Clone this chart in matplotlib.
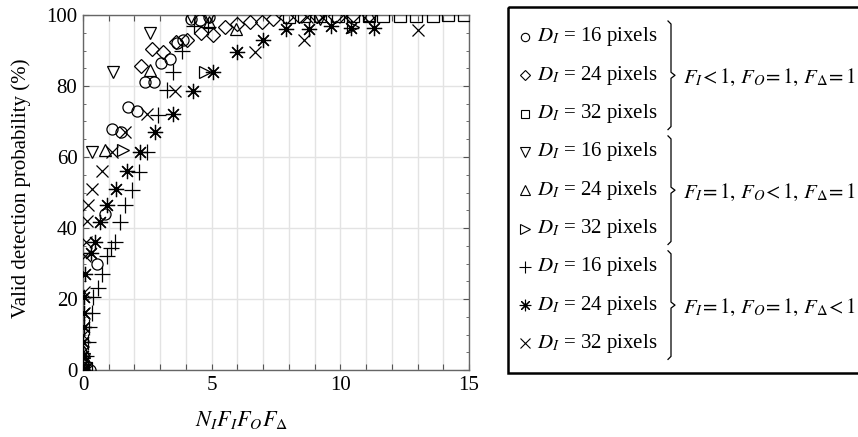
import matplotlib
matplotlib.use("Agg")
import matplotlib.pyplot as plt
from matplotlib.patches import Rectangle

plt.rcParams['font.family'] = ['Liberation Serif', 'DejaVu Serif']
plt.rcParams['mathtext.fontset'] = 'stix'

# --- datos (x = N_I F_I F_O F_Delta, y = probabilidad %) ---
# F_I < 1
circ_x = [0, 0.05, 0.27, 0.55, 0.85, 1.13, 1.48, 1.75, 2.1, 2.4, 2.76, 3.03, 3.38, 3.64, 3.9, 4.2, 4.55, 4.9]
circ_y = [0, 2, 0, 30, 44, 68, 67, 74, 73, 81, 81, 86.5, 87.5, 92, 93, 99, 98.5, 99.5]
diam_x = [0, 0.05, 2.25, 2.7, 3.1, 3.6, 4.05, 4.6, 5.05, 5.5, 6.0, 6.5, 6.95, 7.4, 7.9, 8.4, 9.1, 9.8, 10.5, 11.1]
diam_y = [0, 1, 85.5, 90.5, 89.5, 92.5, 93, 95, 94.5, 96.5, 97.5, 98, 98, 98.8, 99.3, 99.7, 99.7, 99.8, 100, 100]
sq_x = [0, 0.1, 8.0, 8.6, 9.2, 9.9, 10.5, 11.1, 11.65, 12.3, 12.95, 13.6, 14.2, 14.8]
sq_y = [0, 0.5, 99.5, 99.6, 99.6, 99.7, 99.8, 99.8, 99.6, 99.6, 99.6, 99.6, 100, 100]
# F_O < 1
tdn_x = [0, 0.02, 0.35, 1.17, 2.6, 4.2, 4.9, 9.2]
tdn_y = [0, 3, 61.5, 84, 95, 99.5, 99.5, 99]
tup_x = [0, 0.05, 0.85, 2.6, 4.9, 5.95, 11.1]
tup_y = [0, 5, 62, 84.5, 98, 96, 100]
trt_x = [0, 0.1, 1.55, 4.75, 10.5]
trt_y = [0, 2, 62, 84, 96.5]
# F_Delta < 1
plus_x = [0, 0.1, 0.2, 0.25, 0.35, 0.4, 0.6, 0.73, 0.93, 1.08, 1.24, 1.44, 1.63, 1.9, 2.17, 2.47, 2.9, 3.25, 3.5, 3.84, 4.3, 4.85]
plus_y = [0, 4, 8, 12, 16, 20.5, 23, 27, 32, 34.5, 36, 41.7, 46.5, 50.7, 55.8, 61.5, 71.8, 79, 84, 90, 97, 96.5]
ast_x = [0, 0, 0, 0.02, 0.03, 0.04, 0.08, 0.3, 0.47, 0.66, 0.95, 1.3, 1.7, 2.2, 2.8, 3.5, 4.28, 5.05, 6.0, 7.0, 7.9, 8.8, 9.65, 10.4, 11.3]
ast_y = [0, 4, 8, 12, 16, 20.5, 27, 33, 36, 41.7, 46.5, 51, 56, 61.5, 67, 72, 78.5, 84, 89.5, 93, 96, 96, 97, 96.3, 96.3]
cross_x = [0, 0, 0, 0.02, 0.05, 0.08, 0.1, 0.15, 0.2, 0.35, 0.73, 1.13, 1.63, 2.5, 3.57, 6.7, 8.6, 8.7, 9.3, 10.2, 13.0]
cross_y = [0, 5, 10, 16, 22, 32, 36, 42, 46.5, 51, 56, 61.5, 67, 72, 78.5, 89.5, 93, 99.3, 99.5, 99.5, 95.8]

ASTERISCO = (8, 2, 0)

series = [
    (circ_x, circ_y, 'o', 8, r'$D_I$ = 16 pixels'),
    (diam_x, diam_y, 'D', 7, r'$D_I$ = 24 pixels'),
    (sq_x, sq_y, 's', 8, r'$D_I$ = 32 pixels'),
    (tdn_x, tdn_y, 'v', 9, r'$D_I$ = 16 pixels'),
    (tup_x, tup_y, '^', 9, r'$D_I$ = 24 pixels'),
    (trt_x, trt_y, '>', 9, r'$D_I$ = 32 pixels'),
    (plus_x, plus_y, '+', 11, r'$D_I$ = 16 pixels'),
    (ast_x, ast_y, ASTERISCO, 11, r'$D_I$ = 24 pixels'),
    (cross_x, cross_y, 'x', 9, r'$D_I$ = 32 pixels'),
]
grupos = [r'$F_I\!< 1,\, F_O\!= 1,\, F_\Delta\!= 1$',
          r'$F_I\!= 1,\, F_O\!< 1,\, F_\Delta\!= 1$',
          r'$F_I\!= 1,\, F_O\!= 1,\, F_\Delta\!< 1$']

fig = plt.figure(figsize=(8.58, 4.37), dpi=100)
ax = fig.add_axes([83 / 858, 1 - 370 / 437, 386 / 858, 355 / 437])

for xs, ys, mk, ms, _ in series:
    if mk in ('+', 'x', ASTERISCO):
        ax.plot(xs, ys, ls='none', marker=mk, ms=ms, mec='black', mew=0.9, zorder=3)
    else:
        ax.plot(xs, ys, ls='none', marker=mk, ms=ms, mfc='none', mec='black', mew=0.9, zorder=3)

ax.set_xlim(0, 15)
ax.set_ylim(0, 100)
ax.set_xticks(range(0, 16))
ax.set_xticklabels([str(i) if i % 5 == 0 else '' for i in range(16)])
ax.set_yticks(range(0, 101, 20))
ax.set_yticks(range(0, 101, 5), minor=True)
ax.grid(True, which='major', color='#e3e3e3', lw=1.0, zorder=0)
ax.tick_params(direction='in', top=True, right=True, labelsize=15, length=4, color='#555555', pad=4)
ax.tick_params(which='minor', direction='in', right=True, left=True, length=2.5, color='#555555')
for s in ax.spines.values():
    s.set_color('#666666')
    s.set_linewidth(1.0)

ax.set_xlabel(r'$N_I F_I F_O F_\Delta$', fontsize=16)
ax.xaxis.set_label_coords(0.41, -0.11)
ax.set_ylabel('Valid detection probability (%)', fontsize=15)
ax.yaxis.set_label_coords(-0.135, 0.513)

# --- leyenda dibujada a mano (con llaves) en coordenadas de pixel ---
lax = fig.add_axes([0, 0, 1, 1])
lax.set_xlim(0, 858)
lax.set_ylim(437, 0)
lax.axis('off')
lax.add_patch(Rectangle((508, 7), 400, 366, fill=False, ec='black', lw=1.8))

y0, dy = 37, 38.3
for i, (_, _, mk, ms, lab) in enumerate(series):
    yy = y0 + dy * i
    if mk in ('+', 'x', ASTERISCO):
        lax.plot([525], [yy], ls='none', marker=mk, ms=ms * 0.75, mec='black', mew=0.8)
    else:
        lax.plot([525], [yy], ls='none', marker=mk, ms=ms * 0.75, mfc='none', mec='black', mew=0.8)
    lax.text(537, yy, lab, fontsize=15, va='center', ha='left')

for g, txt in enumerate(grupos):
    top = y0 + dy * 3 * g - 16
    bot = y0 + dy * (3 * g + 2) + 16
    mid = (top + bot) / 2
    bx = 668
    lax.plot([bx, bx + 3, bx + 3, bx + 7, bx + 3, bx + 3, bx],
             [top, top + 3, mid - 3, mid, mid + 3, bot - 3, bot],
             color='black', lw=0.9, solid_joinstyle='round')
    lax.text(683, mid + 2, txt, fontsize=15, va='center', ha='left')

fig.savefig('out.png', dpi=100)
